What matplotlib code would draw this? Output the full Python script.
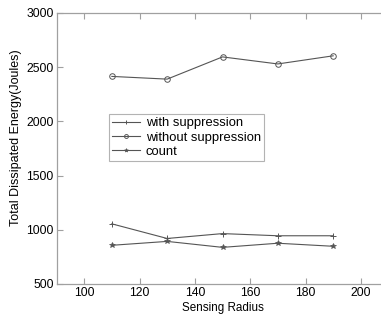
import matplotlib.pyplot as plt

plt.rcParams['font.family'] = ['Liberation Sans', 'DejaVu Sans']

radius = [110, 130, 150, 170, 190]
with_supp = [1055, 920, 965, 945, 945]
without_supp = [2415, 2390, 2595, 2530, 2605]
count = [857, 893, 838, 876, 848]

line_col = '#555555'
axis_col = '#a0a0a0'

fig = plt.figure(figsize=(3.81, 3.2), dpi=100)
# right edge of the axes runs past the picture, as in the original crop
ax = fig.add_axes([56.5 / 381, 36 / 320, 332 / 381, 271 / 320])

ax.plot(radius, with_supp, color=line_col, lw=0.8, marker='+', ms=5, mew=0.7, label='with suppression')
ax.plot(radius, without_supp, color=line_col, lw=0.8, marker='o', ms=4, mfc='none', mew=0.7, label='without suppression')
ax.plot(radius, count, color=line_col, lw=0.8, marker='*', ms=4, mew=0.5, label='count')

ax.set_xlim(90, 210)
ax.set_ylim(500, 3000)
ax.set_xticks([100, 120, 140, 160, 180, 200])
ax.set_yticks([500, 1000, 1500, 2000, 2500, 3000])
ax.tick_params(direction='in', top=True, right=True, length=4, width=0.8,
               color=axis_col, labelsize=8.7, pad=2)
for s in ax.spines.values():
    s.set_color(axis_col)
    s.set_linewidth(0.9)

ax.set_xlabel('Sensing Radius', fontsize=8.4, labelpad=2)
ax.set_ylabel('Total Dissipated Energy(Joules)', fontsize=9)
ax.yaxis.set_label_coords(-0.105, 0.54)

leg = ax.legend(loc='upper left', bbox_to_anchor=(52.5 / 332, 170 / 271), fontsize=9.4,
                frameon=True, fancybox=False, handlelength=2.1, borderpad=0.25,
                labelspacing=0.15, handletextpad=0.45, borderaxespad=0, markerscale=0.7)
leg.get_frame().set_edgecolor(axis_col)
leg.get_frame().set_linewidth(0.8)

fig.savefig('out.png', dpi=100)
